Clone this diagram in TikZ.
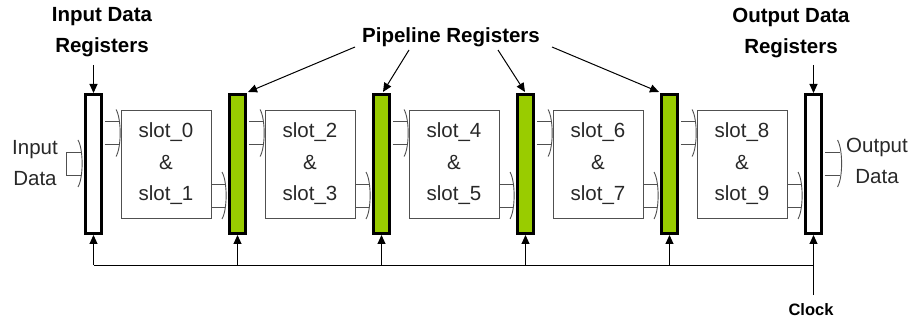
\documentclass[tikz,border=0pt]{standalone}
\usepackage{fontspec}
\setmainfont{Liberation Sans}
\usetikzlibrary{calc,arrows.meta}
\definecolor{lime}{RGB}{153,204,0}
\definecolor{boxgray}{RGB}{80,80,80}
\definecolor{txtgray}{RGB}{40,40,40}
\tikzset{
  reg/.style={draw=black,line width=3pt,minimum width=16pt,minimum height=139pt,inner sep=0pt},
  pipereg/.style={reg,fill=lime},
  ioreg/.style={reg,fill=white},
  slotbox/.style={draw=boxgray,line width=0.9pt,fill=white,minimum width=90pt,minimum height=108pt,inner sep=0pt,
    align=center,font=\fontsize{20.5}{31.5}\selectfont,text=txtgray},
  lbl/.style={align=center,font=\fontsize{20.5}{31}\selectfont\bfseries,inner sep=0pt},
  sidelbl/.style={align=center,font=\fontsize{20.5}{31}\selectfont,text=txtgray,inner sep=0pt},
  fat/.style={draw=boxgray,line width=0.9pt},
  arr/.style={line width=1pt,-{Triangle[length=9pt,width=8pt]}},
  wire/.style={line width=1pt}
}
% #1 start coordinate name, #2 end coordinate name (same y), #3 = 1 if the start is closed
\newcommand\fatarrow[3]{%
  \fill[white] ($(#1)+(0,-11.5)$) rectangle ($(#2)+(-2,11.5)$);
  \ifnum#3=1
    \draw[fat] ($(#2)+(-2,-11.5)$) -- ($(#1)+(0,-11.5)$) -- ($(#1)+(0,11.5)$) -- ($(#2)+(-2,11.5)$);
  \else
    \draw[fat] ($(#2)+(-2,-11.5)$) -- ($(#1)+(0,-11.5)$);
    \draw[fat] ($(#1)+(0,11.5)$) -- ($(#2)+(-2,11.5)$);
  \fi
  \draw[fat] ($(#2)+(-4.5,-23.5)$) .. controls ($(#2)+(1,-14)$) and ($(#2)+(1,14)$) .. ($(#2)+(-4.5,23.5)$);
}
\begin{document}
\begin{tikzpicture}[x=1pt,y=-1pt]
\useasboundingbox (0,0) rectangle (912,320);
% registers
\node[ioreg]   (r0) at (93.5,164) {};
\node[pipereg] (r1) at (237.5,164) {};
\node[pipereg] (r2) at (381.5,164) {};
\node[pipereg] (r3) at (525.5,164) {};
\node[pipereg] (r4) at (669.5,164) {};
\node[ioreg]   (r5) at (813.5,164) {};
% slot boxes
\node[slotbox] (s0) at (166,164) {slot\_0\\\&\\slot\_1};
\node[slotbox] (s1) at (310,164) {slot\_2\\\&\\slot\_3};
\node[slotbox] (s2) at (454,164) {slot\_4\\\&\\slot\_5};
\node[slotbox] (s3) at (598,164) {slot\_6\\\&\\slot\_7};
\node[slotbox] (s4) at (742,164) {slot\_8\\\&\\slot\_9};
% fat arrows register -> slot and slot -> register
\foreach \i [evaluate=\i as \j using int(\i+1)] in {0,...,4}{
  \coordinate (a1) at ($(r\i.east)+(1.5,-31)$);
  \coordinate (a2) at ($(s\i.west)+(0,-31)$);
  \fatarrow{a1}{a2}{0}
  \coordinate (b1) at ($(s\i.east)+(0.5,31.5)$);
  \coordinate (b2) at ($(r\j.west)+(-1.5,31.5)$);
  \fatarrow{b1}{b2}{0}
}
% input and output arrows
\coordinate (inS) at (66,163.5);
\coordinate (inE) at ($(r0.west)+(-1.5,-0.5)$);
\fatarrow{inS}{inE}{1}
\coordinate (outS) at ($(r5.east)+(1.5,-0.5)$);
\coordinate (outE) at (842,163.5);
\fatarrow{outS}{outE}{0}
% side labels
\node[sidelbl] (inlbl) at (35,163) {Input\\Data};
\node[sidelbl] (outlbl) at (877,161) {Output\\Data};
% top labels
\node[lbl] (inreg) at (102,32) {Input Data\\Registers};
\node[lbl] (outreg) at (791,33) {Output Data\\Registers};
\node[lbl] (pipe) at (451,37) {Pipeline Registers};
\draw[arr] (r0.north |- 0,65) -- (r0.north);
\draw[arr] (r5.north |- 0,65) -- (r5.north);
\coordinate (p1) at (355,47);
\coordinate (p2) at (409,50);
\coordinate (p3) at (498,50);
\coordinate (p4) at (552,47);
\draw[arr] (p1) -- ($(r1.north east)+(1,-1)$);
\draw[arr] (p2) -- ($(r2.north)+(1.5,-1)$);
\draw[arr] (p3) -- ($(r3.north)+(-0.5,-1)$);
\draw[arr] (p4) -- ($(r4.north west)+(-1,-1)$);
% clock
\node[font=\fontsize{16.5}{18}\selectfont\bfseries,inner sep=0pt] (clk) at (811,310) {Clock};
\coordinate (cb) at (813.5,295);
\coordinate (bus0) at (93.5,265);
\draw[wire] (bus0) -- (bus0 -| r5.south);
\draw[arr] (cb) -- (r5.south);
\foreach \i in {0,...,4}{
  \draw[arr] (r\i.south |- bus0) -- (r\i.south);
}
\end{tikzpicture}
\end{document}
